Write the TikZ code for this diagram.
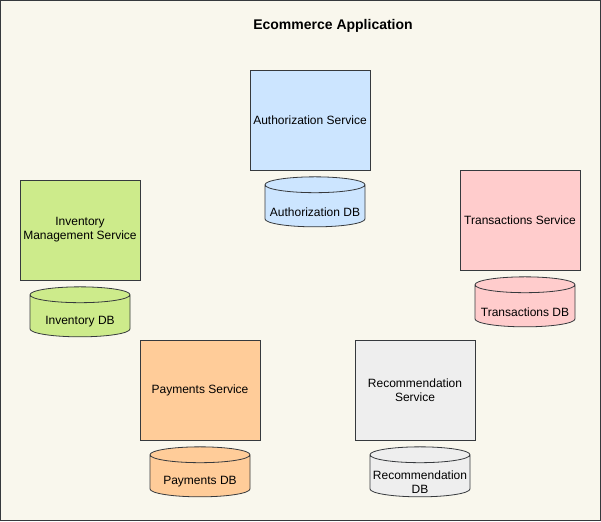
\documentclass[tikz,border=0pt]{standalone}
\usepackage{fontspec}
\setmainfont{Liberation Sans}
\usetikzlibrary{positioning, shapes.geometric}
\definecolor{pozadi}{HTML}{F9F7ED}
\definecolor{linka}{HTML}{36393D}
\definecolor{modra}{HTML}{CCE5FF}
\definecolor{zelena}{HTML}{CDEB8B}
\definecolor{ruzova}{HTML}{FFCCCC}
\definecolor{oranzova}{HTML}{FFCC99}
\definecolor{seda}{HTML}{EEEEEE}

\begin{document}
\begin{tikzpicture}[x=1pt, y=-1pt, font=\fontsize{12}{14}\selectfont,
  sluzba/.style={draw=linka, line width=0.8pt, minimum width=120pt, minimum height=100pt, align=center, inner sep=0pt},
  databaze/.style={cylinder, shape border rotate=90, aspect=0.16, draw=linka, line width=0.8pt, text width=99pt, minimum width=100pt, minimum height=50pt, inner sep=0pt},
  popis/.style={align=center, inner sep=0pt}]
  % Ramecek
  \useasboundingbox (0,0) rectangle (601,521);
  \draw[fill=pozadi, draw=linka, line width=0.8pt] (0.5,0.5) rectangle (600.5,520.5);
  \node[font=\fontsize{14}{16}\selectfont\bfseries] (nadpis) at (333,26) {Ecommerce Application};

  % Sluzby
  \node[sluzba, fill=modra] (auth) at (310,120) {Authorization Service};
  \node[sluzba, fill=zelena] (inv) at (80,230) {Inventory\\Management Service};
  \node[sluzba, fill=ruzova] (trans) at (520,220) {Transactions Service};
  \node[sluzba, fill=oranzova] (pay) at (200,390) {Payments Service};
  \node[sluzba, fill=seda] (rec) at (415,390) {Recommendation\\Service};

  % Databaze
  \node[databaze, fill=modra] (authdb) at (315,206) {};
  \node[databaze, fill=zelena] (invdb) at (80,316) {};
  \node[databaze, fill=ruzova] (transdb) at (525,306) {};
  \node[databaze, fill=oranzova] (paydb) at (200,476) {};
  \node[databaze, fill=seda] (recdb) at (420,476) {};

  % Popisky databazi
  \node[popis] (authdbtext) at (315,212) {Authorization DB};
  \node[popis] (invdbtext) at (80,322) {Inventory DB};
  \node[popis] (transdbtext) at (525,312) {Transactions DB};
  \node[popis] (paydbtext) at (200,482) {Payments DB};
  \node[popis] (recdbtext) at (420,482) {Recommendation\\DB};
\end{tikzpicture}
\end{document}
